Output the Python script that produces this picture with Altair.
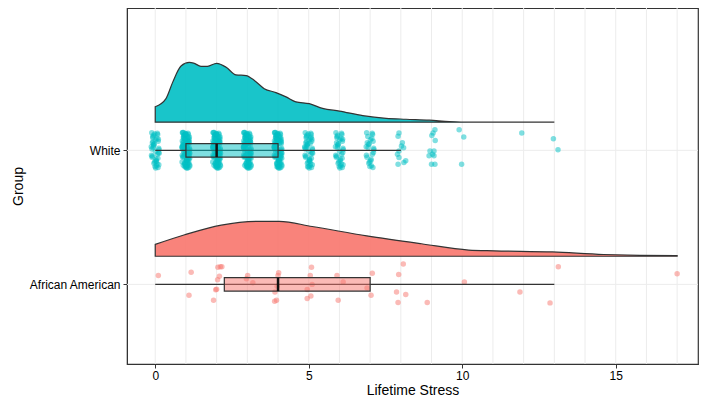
import altair as alt
import pandas as pd

# ---------------- data ----------------
groups = ["White", "African American"]
group_colors = ["#00BFC4", "#F8766D"]
group_pos = [2, 1]

# half-violin (density) outlines: score value and density height
w_dens_x = [0, 0.35, 0.57, 0.84, 1.11, 1.25, 1.49, 1.7, 2.0, 2.31, 2.63, 2.96, 3.23, 3.55,
            3.93, 4.26, 4.58, 5.02, 5.45, 6.0, 6.76, 7.52, 8.17, 8.93, 9.58, 10.24, 13.0]
w_dens_h = [0.115, 0.176, 0.299, 0.419, 0.446, 0.441, 0.417, 0.417, 0.439, 0.41, 0.353, 0.348,
            0.311, 0.25, 0.221, 0.189, 0.152, 0.138, 0.103, 0.083, 0.049, 0.029, 0.022, 0.015,
            0.005, 0.0, 0.0]
aa_dens_x = [0, 0.96, 2.15, 3.34, 4.04, 5.11, 6.89, 8.67, 10.21, 11.04, 12.94, 14.6, 16.97, 17.0]
aa_dens_h = [0.088, 0.16, 0.232, 0.26, 0.26, 0.222, 0.152, 0.093, 0.046, 0.04, 0.032, 0.013,
             0.005, 0.005]

# White raw scores: number of respondents at each (dense) integer score
w_col_values = [0, 1, 2, 3, 4, 5, 6, 7]
w_col_counts = [40, 90, 90, 85, 80, 45, 35, 25]
# jitter offsets (fractions of the jitter width/height)
jit_x = [0.31, -0.72, 0.88, -0.15, 0.52, -0.93, 0.07, 0.69, -0.41, 0.83,
         -0.58, 0.24, -0.99, 0.61, -0.33, 0.95, -0.79, 0.42, -0.06, 0.74,
         -0.51, 0.17, -0.87, 0.56, -0.22, 0.9, -0.64, 0.03, -0.46, 0.66,
         0.12, -0.38, 0.79, -0.71, 0.47, -0.12, 0.98, -0.55, 0.28, -0.83,
         0.63, -0.27, 0.36, -0.96, 0.19, -0.62, 0.85, -0.09, 0.5, -0.77,
         0.71, -0.44, 0.02, -0.68, 0.93, -0.19, 0.4, -0.89, 0.26, -0.53,
         0.81, -0.31, 0.58, -0.04, 0.14, -0.75, 0.67, -0.48, 0.97, -0.24,
         0.35, -0.91, 0.45, -0.13, 0.76, -0.6, 0.09, -0.36, 0.54, -0.82,
         0.21, -0.66, 0.87, -0.29, 0.6, -0.97, 0.38, -0.07, 0.73, -0.42]
jit_y = [-0.85, 0.42, 0.11, -0.63, 0.94, -0.27, 0.58, -0.95, 0.33, -0.12,
         0.77, -0.49, 0.2, 0.88, -0.71, 0.04, -0.38, 0.65, -0.89, 0.5,
         0.16, -0.57, 0.97, -0.22, 0.36, -0.79, 0.69, -0.05, 0.83, -0.44,
         -0.98, 0.26, 0.61, -0.33, -0.74, 0.91, -0.16, 0.47, -0.6, 0.08,
         0.72, -0.91, 0.39, 0.14, -0.52, 0.99, -0.29, -0.81, 0.55, 0.23,
         -0.67, 0.85, -0.09, 0.31, -0.43, 0.63, -0.97, 0.18, 0.79, -0.35,
         0.45, -0.76, 0.02, 0.93, -0.55, 0.28, -0.19, 0.67, -0.87, 0.1,
         -0.3, 0.52, -0.69, 0.86, 0.35, -0.06, -0.92, 0.6, -0.41, 0.98,
         0.21, -0.83, 0.74, -0.24, 0.46, -0.65, 0.13, 0.89, -0.5, -0.14]

# White sparse points read one by one (x, vertical offset from group line)
w_sparse_x = [7.94, 7.91, 8.05, 8.02, 8.09, 7.94, 7.89, 7.94, 8.16, 8.1, 7.91,
              9.11, 9.05, 9.01, 9.12, 8.95, 9.08, 8.92, 9.08, 9.03, 9.0, 9.11,
              9.9, 10.05, 9.98, 11.94, 12.97, 13.12]
w_sparse_dy = [0.13, 0.106, 0.057, 0.032, 0.02, -0.004, -0.029, -0.054, -0.078, -0.09, -0.103,
               0.154, 0.13, 0.11, 0.074, -0.004, -0.004, -0.041, -0.041, -0.029, -0.103, -0.103,
               0.154, 0.099, -0.103, 0.13, 0.086, 0.005]

# African American points read one by one
aa_x = [0.1, 1.17, 1.1, 2.04, 2.12, 2.17, 2.09, 2.03, 2.0, 1.97, 1.9, 3.01, 2.97, 3.18,
        4.02, 4.0, 3.97, 3.9, 3.95, 3.89, 5.09, 5.05, 5.11, 4.95, 5.07, 4.95, 5.96, 5.92,
        6.12, 7.07, 6.9, 7.03, 8.08, 7.93, 7.86, 8.16, 7.91, 8.86, 10.07, 11.88, 12.86,
        13.13, 17.0]
aa_dy = [0.066, 0.09, -0.081, 0.127, 0.132, 0.132, 0.061, 0.035, -0.037, -0.04, -0.118,
         0.066, 0.042, 0.013, 0.086, 0.066, -0.013, -0.057, -0.118, -0.125, 0.127, 0.066,
         0.0, -0.039, -0.086, -0.105, -0.118, 0.066, 0.017, 0.083, -0.027, -0.081, 0.152,
         0.074, -0.057, -0.076, -0.135, -0.135, 0.017, -0.057, -0.138, 0.132, 0.079]

# boxplot statistics
box_min = [0, 0]
box_q1 = [1, 2.25]
box_med = [2, 4]
box_q3 = [4, 7]
box_max = [8, 13]

grid_x = list(range(0, 18))

# ---------------- layout constants ----------------
NUDGE = 0.21      # violin baseline offset above group line
BOX_HALF = 0.05   # half box height
JW, JH = 0.13, 0.135

# ---------------- build tables ----------------
dens_rows = []
for g, p, xs, hs in [("White", 2, w_dens_x, w_dens_h), ("African American", 1, aa_dens_x, aa_dens_h)]:
    for xv, hv in zip(xs, hs):
        dens_rows.append({"group": g, "x": xv, "base": p + NUDGE, "top": p + NUDGE + hv})
dens_df = pd.DataFrame(dens_rows)

pt_rows = []
for v, n in zip(w_col_values, w_col_counts):
    for i in range(n):
        pt_rows.append({"group": "White", "x": v + jit_x[i] * JW, "y": 2 + jit_y[i] * JH})
for xv, dy in zip(w_sparse_x, w_sparse_dy):
    pt_rows.append({"group": "White", "x": xv, "y": 2 + dy})
for xv, dy in zip(aa_x, aa_dy):
    pt_rows.append({"group": "African American", "x": xv, "y": 1 + dy})
pts_df = pd.DataFrame(pt_rows)

box_df = pd.DataFrame({
    "group": groups, "pos": group_pos, "min": box_min, "q1": box_q1, "med": box_med,
    "q3": box_q3, "max": box_max,
    "lo": [p - BOX_HALF for p in group_pos], "hi": [p + BOX_HALF for p in group_pos],
})

# ---------------- chart ----------------
FONT = "Liberation Sans"
xscale = alt.Scale(domain=[-0.92, 17.68], nice=False, zero=False)
yscale = alt.Scale(domain=[0.406, 3.062], nice=False, zero=False)
cscale = alt.Scale(domain=groups, range=group_colors)

xaxis = alt.Axis(values=[0, 5, 10, 15], grid=False, tickSize=4, tickColor="#333",
                 domainColor="#333", labelColor="#000", labelFontSize=12, labelFont=FONT,
                 titleFont=FONT, titleFontSize=14, titleFontWeight="normal", titleColor="#000",
                 labelPadding=2, titlePadding=2, format="d")
yaxis = alt.Axis(values=[1, 2], grid=False, tickSize=4, tickColor="#333", domainColor="#333",
                 labelExpr="datum.value == 2 ? 'White' : 'African American'",
                 labelColor="#000", labelFontSize=12, labelFont=FONT, titleFont=FONT,
                 titleFontSize=14, titleFontWeight="normal", titleColor="#000",
                 labelPadding=3, titlePadding=3)


def X(f):
    return alt.X(f"{f}:Q", scale=xscale, axis=xaxis, title="Lifetime Stress")


def Y(f):
    return alt.Y(f"{f}:Q", scale=yscale, axis=yaxis, title="Group")


grid_v = alt.Chart(pd.DataFrame({"x": grid_x})).mark_rule(color="#ececec", strokeWidth=1).encode(x=X("x"))
grid_h = alt.Chart(pd.DataFrame({"y": group_pos})).mark_rule(color="#ececec", strokeWidth=1).encode(y=Y("y"))

violin = alt.Chart(dens_df).mark_area(
    interpolate="monotone", stroke="#333", strokeWidth=1.2, fillOpacity=0.9
).encode(
    x=X("x"), y=Y("top"), y2="base",
    fill=alt.Fill("group:N", scale=cscale, legend=None), detail="group:N",
)

points = alt.Chart(pts_df).mark_circle(size=30, opacity=0.5).encode(
    x=X("x"), y=Y("y"), color=alt.Color("group:N", scale=cscale, legend=None)
)

whisker = alt.Chart(box_df).mark_rule(color="#333", strokeWidth=1.2).encode(
    x=X("min"), x2="max", y=Y("pos")
)
box = alt.Chart(box_df).mark_rect(stroke="#333", strokeWidth=1.2, fillOpacity=0.5).encode(
    x=X("q1"), x2="q3", y=Y("lo"), y2="hi",
    fill=alt.Fill("group:N", scale=cscale, legend=None),
)
median = alt.Chart(box_df).mark_rule(color="#111", strokeWidth=2.5).encode(
    x=X("med"), y=Y("lo"), y2="hi"
)

chart = alt.layer(grid_v, grid_h, violin, points, whisker, box, median).properties(
    width=571, height=356,
    autosize=alt.AutoSizeParams(type="none"),
    padding={"left": 119, "top": 0, "right": 1, "bottom": 39},
).configure_view(stroke="#333", strokeWidth=1.2)

chart.save("out.html", embed_options={"renderer": "svg", "actions": False})
